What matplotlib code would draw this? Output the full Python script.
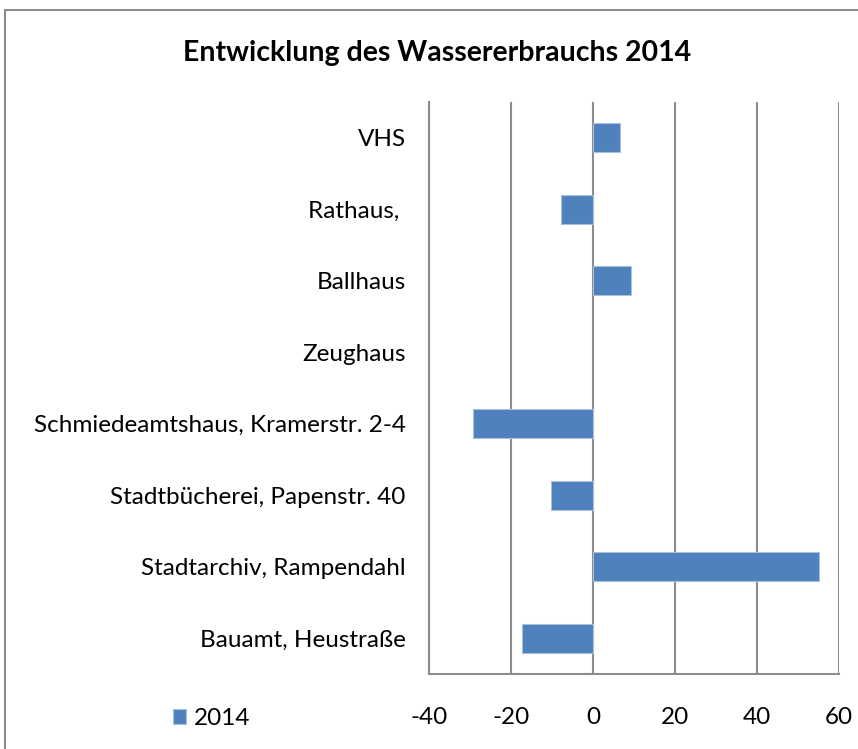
import matplotlib
matplotlib.use("Agg")
import matplotlib.pyplot as plt
from matplotlib.patches import Rectangle

# Daten (von unten nach oben wie im Diagramm)
gebaeude = ["Bauamt, Heustraße", "Stadtarchiv, Rampendahl", "Stadtbücherei, Papenstr. 40",
            "Schmiedeamtshaus, Kramerstr. 2-4", "Zeughaus", "Ballhaus", "Rathaus, ", "VHS"]
werte_2014 = [-17.4, 55.1, -10.4, -29.3, 0, 9.1, -7.8, 6.5]
x_ticks = [-40, -20, 0, 20, 40, 60]

plt.rcParams['font.family'] = ['Lato', 'DejaVu Sans']

fig = plt.figure(figsize=(8.58, 7.49), dpi=100)
ax = fig.add_axes([0.5003, 0.1001, 0.4779, 0.7637])

# kein Rand fuer Balken mit Wert 0
kanten = [0.8 if w != 0 else 0 for w in werte_2014]
ax.barh(range(len(gebaeude)), werte_2014, height=0.4, color='#4F81BD',
        edgecolor='#A7C0DE', linewidth=kanten, zorder=3, label='2014')

ax.set_xlim(-40, 60)
ax.set_ylim(-0.5, len(gebaeude) - 0.5)
ax.set_xticks(x_ticks)
ax.set_xticklabels([str(t) for t in x_ticks])
ax.set_yticks(range(len(gebaeude)))
ax.set_yticklabels(gebaeude)
ax.tick_params(axis='x', length=0, pad=24, labelsize=17.5)
ax.tick_params(axis='y', length=0, pad=17, labelsize=17.5)

ax.grid(axis='x', color='#8C8C8C', linewidth=1.5, zorder=0)
for s in ['top', 'right']:
    ax.spines[s].set_visible(False)
for s in ['left', 'bottom']:
    ax.spines[s].set_color('#8C8C8C')
    ax.spines[s].set_linewidth(1.5)

fig.text(0.509, 0.929, "Entwicklung des Wassererbrauchs 2014", ha='center', va='center',
         fontsize=20.5, fontweight='bold')

# Legende
fig.legend(loc='center left', bbox_to_anchor=(0.176, 0.041), frameon=False,
           fontsize=17.5, handlelength=0.55, handleheight=0.55, handletextpad=0.3)

# Rahmen
fig.patches.append(Rectangle((5 / 858, -0.01), 1.1, (749 - 10) / 749 + 0.01,
                             transform=fig.transFigure, fill=False,
                             edgecolor='#8C8C8C', linewidth=1.5))

fig.savefig("out.png", dpi=100)
